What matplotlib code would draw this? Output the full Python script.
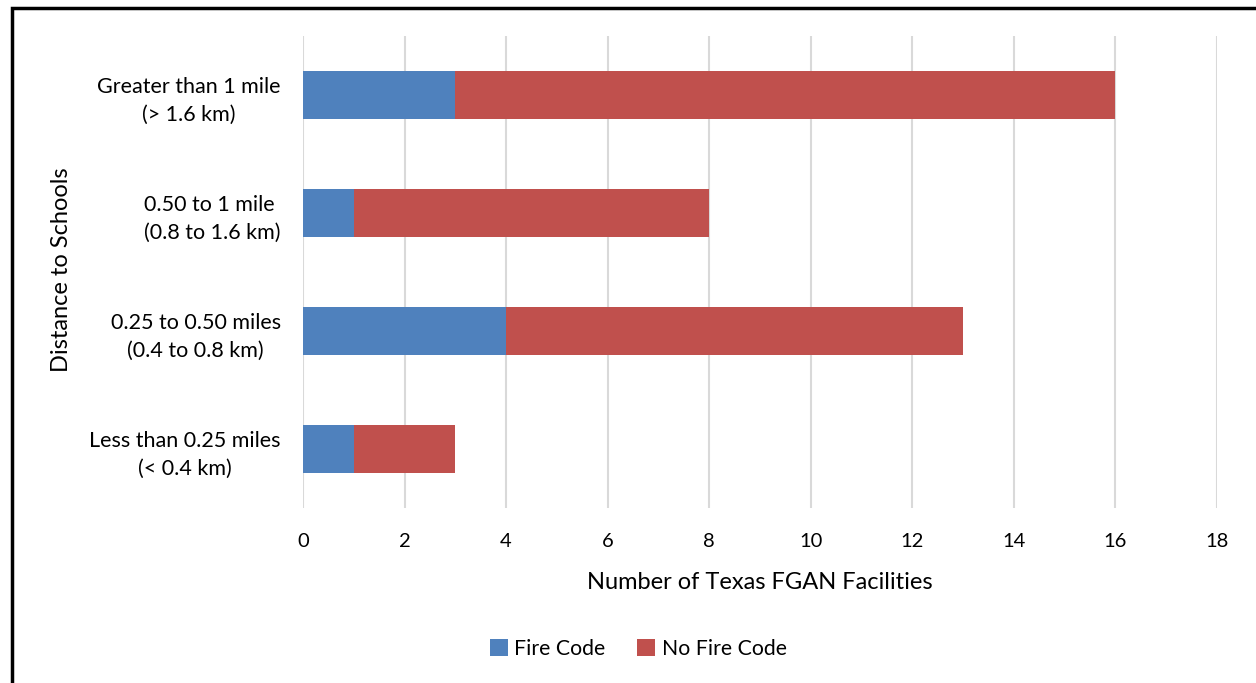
import matplotlib.pyplot as plt
from matplotlib.patches import Rectangle
import numpy as np

categories = ['Less than 0.25 miles\n(< 0.4 km)',
              '0.25 to 0.50 miles\n(0.4 to 0.8 km)',
              '0.50 to 1 mile \n(0.8 to 1.6 km)',
              'Greater than 1 mile\n(> 1.6 km)']
fire_code = [1, 4, 1, 3]
no_fire_code = [2, 9, 7, 13]
x_ticks = [0, 2, 4, 6, 8, 10, 12, 14, 16, 18]

plt.rcParams['font.family'] = ['Lato', 'DejaVu Sans']

fig = plt.figure(figsize=(12.56, 6.83), dpi=100)
ax = fig.add_axes([303 / 1256, 1 - 508 / 683, (1217 - 303) / 1256, (508 - 36) / 683])

y = np.arange(len(categories))
ax.barh(y, fire_code, height=0.41, color='#4f81bd', label='Fire Code', zorder=3)
ax.barh(y, no_fire_code, left=fire_code, height=0.41, color='#c0504d',
        label='No Fire Code', zorder=3)

ax.set_xlim(0, 18)
ax.set_ylim(-0.5, len(categories) - 0.5)
ax.set_xticks(x_ticks)
ax.set_yticks(y)
ax.set_yticklabels(categories, ha='right', multialignment='center')
ax.tick_params(axis='y', length=0, pad=16, labelsize=15.5)
ax.tick_params(axis='x', length=0, pad=18, labelsize=14.5)
for lab in ax.get_yticklabels():
    lab.set_linespacing(1.5)
ax.grid(axis='x', color='#d9d9d9', linewidth=1.5, zorder=0)
for s in ax.spines.values():
    s.set_visible(False)

ax.set_xlabel('Number of Texas FGAN Facilities', fontsize=17, labelpad=16)
fig.text(62 / 1256, 1 - 270 / 683, 'Distance to Schools', rotation=90,
         fontsize=17, ha='center', va='center')

fig.legend(loc='center', bbox_to_anchor=(638 / 1256, 1 - 649 / 683), ncol=2,
           frameon=False, fontsize=15.3, handlelength=0.85, handleheight=0.85,
           handletextpad=0.3, columnspacing=1.5)

fig.patches.append(Rectangle((11.5 / 1256, -0.1), 1.2, 1 - 8 / 683 + 0.1,
                             transform=fig.transFigure, fill=False,
                             edgecolor='black', linewidth=2.5))

fig.savefig('out.png', dpi=100)
